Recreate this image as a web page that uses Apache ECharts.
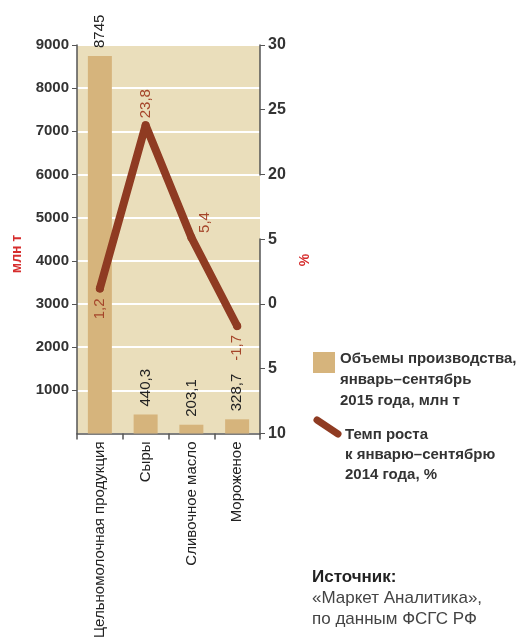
<!DOCTYPE html>
<html><head><meta charset="utf-8">
<script src="https://cdn.jsdelivr.net/npm/echarts@6/dist/echarts.min.js"></script>
<style>html,body{margin:0;padding:0;background:#fff}#c{width:520px;height:641px}</style>
</head><body><div id="c"></div>
<script>
const categories = ['Цельномолочная продукция', 'Сыры', 'Сливочное масло', 'Мороженое'];
const volumes = [8745, 440.3, 203.1, 328.7];
const growth = [1.2, 23.8, 5.4, -1.7];
const leftTicks = [0, 9000, 1000];
const rightTicks = [-10, 30, 5];
const legendBar = ['Объемы производства,', 'январь–сентябрь', '2015 года, млн т'];
const legendLine = ['Темп роста', 'к январю–сентябрю', '2014 года, %'];
const sourceLines = ['Источник:', '«Маркет Аналитика»,', 'по данным ФСГС РФ'];

const FONT = '"Liberation Sans", Arial, sans-serif';
const fmt = v => String(v).replace('.', ',');
const chart = echarts.init(document.getElementById('c'), null, {renderer: 'canvas'});

const lineLabelPos = [
  {position: 'bottom', align: 'right', distance: 6},
  {position: 'top', align: 'left', distance: 3},
  {position: 'inside', align: 'center', offset: [15, 13]},
  {position: 'bottom', align: 'right', distance: 5}
];

const graphic = [];
graphic.push({type: 'text', x: 17, y: 254, rotation: Math.PI / 2,
  style: {text: 'млн т', fill: '#d62d2d', font: 'bold 14px ' + FONT, align: 'center', verticalAlign: 'middle'}});
graphic.push({type: 'text', x: 305, y: 260, rotation: Math.PI / 2,
  style: {text: '%', fill: '#d62d2d', font: 'bold 14px ' + FONT, align: 'center', verticalAlign: 'middle'}});
graphic.push({type: 'rect', shape: {x: 313, y: 352, width: 22, height: 21}, style: {fill: '#d6b47c'}});
legendBar.forEach((t, i) => graphic.push({type: 'text', x: 340, y: 359 + i * 21,
  style: {text: t, fill: '#333', font: 'bold 15px ' + FONT, verticalAlign: 'middle'}}));
graphic.push({type: 'line', shape: {x1: 317, y1: 420, x2: 338, y2: 434},
  style: {stroke: '#8f3b22', lineWidth: 7, lineCap: 'round'}});
legendLine.forEach((t, i) => graphic.push({type: 'text', x: 345, y: 435 + i * 20,
  style: {text: t, fill: '#333', font: 'bold 15px ' + FONT, verticalAlign: 'middle'}}));
sourceLines.forEach((t, i) => graphic.push({type: 'text', x: 312, y: 577 + i * 21,
  style: {text: t, fill: i === 0 ? '#222' : '#444', font: (i === 0 ? 'bold ' : '') + '17px ' + FONT, verticalAlign: 'middle'}}));

chart.setOption({
  animation: false,
  textStyle: {fontFamily: FONT},
  grid: {left: 77, right: 260, top: 45, bottom: 204, show: true, backgroundColor: '#eadebb', borderWidth: 0},
  xAxis: {
    type: 'category', data: categories, boundaryGap: true,
    axisLine: {lineStyle: {color: '#555', width: 1.5}},
    axisTick: {show: true, length: 6, lineStyle: {color: '#555', width: 1.5}},
    axisLabel: {rotate: 90, fontSize: 15, color: '#222', margin: 8, fontFamily: FONT}
  },
  yAxis: [{
    type: 'value', min: leftTicks[0], max: leftTicks[1], interval: leftTicks[2],
    axisLine: {show: true, lineStyle: {color: '#555', width: 1.5}},
    axisTick: {show: true, length: 5, lineStyle: {color: '#555'}},
    axisLabel: {showMinLabel: false, fontSize: 15, fontWeight: 'bold', color: '#333', margin: 8, formatter: v => String(v)},
    splitLine: {show: true, lineStyle: {color: '#fff', width: 2}}
  }, {
    type: 'value', min: rightTicks[0], max: rightTicks[1], interval: rightTicks[2],
    breaks: [{start: 5, end: 20, gap: 5}],
    breakArea: {itemStyle: {color: 'rgba(0,0,0,0)', borderWidth: 0, borderColor: 'rgba(0,0,0,0)'}, zigzagAmplitude: 0},
    axisLine: {show: true, lineStyle: {color: '#555', width: 1.5}},
    axisTick: {show: true, length: 5, lineStyle: {color: '#555'}},
    axisLabel: {fontSize: 16, fontWeight: 'bold', color: '#333', margin: 8, formatter: v => String(Math.abs(v))},
    splitLine: {show: false}
  }],
  series: [{
    type: 'bar', data: volumes, barWidth: 24, z: 2,
    itemStyle: {color: '#d6b47c'},
    label: {show: true, position: 'top', rotate: 90, align: 'left', verticalAlign: 'middle', distance: 8,
      fontSize: 15, color: '#222', formatter: p => fmt(p.value)}
  }, {
    type: 'line', yAxisIndex: 1, z: 3,
    data: growth.map((v, i) => ({value: v, label: lineLabelPos[i]})),
    symbol: 'circle', symbolSize: 8, itemStyle: {color: '#8f3b22'},
    lineStyle: {color: '#8f3b22', width: 8, cap: 'round', join: 'round'},
    label: {show: true, rotate: 90, verticalAlign: 'middle', fontSize: 15, color: '#a5452a', formatter: p => fmt(p.value)}
  }],
  graphic: graphic
});
</script></body></html>
